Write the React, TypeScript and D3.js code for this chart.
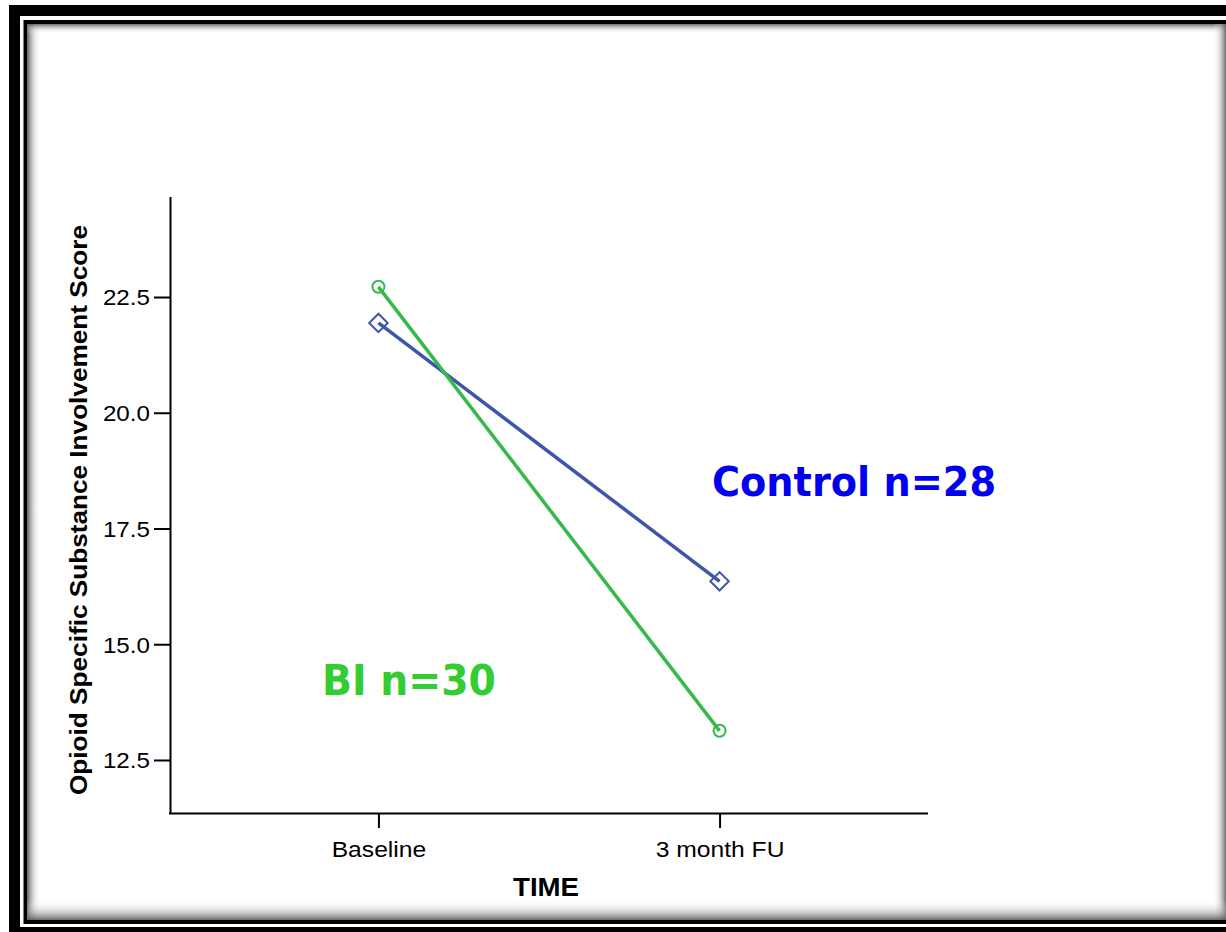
import React, { useRef, useEffect } from 'react';
import * as d3 from 'd3';

const categories = ['Baseline', '3 month FU'];
const controlValues = [21.94, 16.36];
const biValues = [22.72, 13.13];
const yTicks = [12.5, 15.0, 17.5, 20.0, 22.5];
const seriesLabels = ['Control n=28', 'BI n=30'];

const W = 1226;
const H = 932;
const FONT = '"Liberation Sans", Arial, sans-serif';

const App: React.FC = () => {
  const svgRef = useRef<SVGSVGElement>(null);

  useEffect(() => {
    if (!svgRef.current) return;
    const svg = d3.select(svgRef.current);
    svg.selectAll('*').remove();

    // frame: outer black band, white gap, thin black line, inner shadow
    const defs = svg.append('defs');
    const grad = (id: string, x1: number, y1: number, x2: number, y2: number) => {
      const g = defs.append('linearGradient').attr('id', id)
        .attr('x1', x1).attr('y1', y1).attr('x2', x2).attr('y2', y2);
      g.append('stop').attr('offset', 0).attr('stop-color', '#5a5a5a').attr('stop-opacity', 0.9);
      g.append('stop').attr('offset', 0.45).attr('stop-color', '#a8a8a8').attr('stop-opacity', 0.45);
      g.append('stop').attr('offset', 1).attr('stop-color', '#ffffff').attr('stop-opacity', 0);
    };
    grad('shL', 0, 0, 1, 0);
    grad('shR', 1, 0, 0, 0);
    grad('shT', 0, 0, 0, 1);
    grad('shB', 0, 1, 0, 0);

    svg.append('rect').attr('x', 0).attr('y', 0).attr('width', W).attr('height', H).attr('fill', '#fff');
    svg.append('rect').attr('x', 9).attr('y', 5).attr('width', 1240).attr('height', 945).attr('fill', '#000');
    svg.append('rect').attr('x', 20).attr('y', 16).attr('width', 1220).attr('height', 911).attr('fill', '#fff');
    svg.append('rect').attr('x', 23.5).attr('y', 20).attr('width', 1215).attr('height', 904).attr('fill', '#000');
    svg.append('rect').attr('x', 27.5).attr('y', 24).attr('width', 1202).attr('height', 896).attr('fill', '#fff');
    svg.append('rect').attr('x', 27.5).attr('y', 24).attr('width', 13).attr('height', 896).attr('fill', 'url(#shL)');
    svg.append('rect').attr('x', 27.5).attr('y', 24).attr('width', 1202).attr('height', 10).attr('fill', 'url(#shT)');
    svg.append('rect').attr('x', 1213).attr('y', 24).attr('width', 13).attr('height', 896).attr('fill', 'url(#shR)');
    svg.append('rect').attr('x', 27.5).attr('y', 900).attr('width', 1202).attr('height', 20).attr('fill', 'url(#shB)');

    // scales
    const x = d3.scalePoint<string>().domain(categories).range([170, 928]).padding(0.611);
    const y = d3.scaleLinear().domain([11.355, 24.66]).range([813, 197]);

    const stretch = (sel: d3.Selection<SVGTextElement, any, any, any>, k: number) => {
      sel.each(function () {
        const len = (this as SVGTextElement).getComputedTextLength();
        d3.select(this).attr('textLength', len * k).attr('lengthAdjust', 'spacingAndGlyphs');
      });
    };

    // y axis
    const yAxis = svg.append('g').attr('transform', 'translate(170,0)')
      .call(d3.axisLeft(y).tickValues(yTicks).tickSize(16).tickPadding(4).tickFormat(d3.format('.1f')));
    yAxis.attr('font-family', FONT).attr('font-size', 22);
    yAxis.select('.domain').attr('stroke', '#000').attr('stroke-width', 2)
      .attr('d', `M0.5,${y.range()[1]}V${y.range()[0]}`);
    yAxis.selectAll('.tick line').attr('stroke', '#000').attr('stroke-width', 2);
    const yText = yAxis.selectAll<SVGTextElement, number>('.tick text')
      .attr('fill', '#000').style('font-family', FONT).style('font-size', '22px').attr('dy', '0.36em');
    stretch(yText, 1.1);

    // x axis
    const xAxis = svg.append('g').attr('transform', 'translate(0,813)')
      .call(d3.axisBottom(x).tickSize(15).tickPadding(13));
    xAxis.attr('font-family', FONT).attr('font-size', 22);
    xAxis.select('.domain').attr('stroke', '#000').attr('stroke-width', 2)
      .attr('d', 'M169,0.5H928');
    xAxis.selectAll('.tick line').attr('stroke', '#000').attr('stroke-width', 2);
    const xText = xAxis.selectAll<SVGTextElement, string>('.tick text')
      .attr('fill', '#000').style('font-family', FONT).style('font-size', '22px');
    stretch(xText, 1.12);

    // axis titles
    svg.append('text').attr('x', 546).attr('y', 896).attr('text-anchor', 'middle')
      .style('font-family', FONT).attr('font-weight', 'bold')
      .style('font-size', '25px').attr('fill', '#000')
      .attr('textLength', 66).attr('lengthAdjust', 'spacingAndGlyphs')
      .text('TIME');

    svg.append('text').attr('transform', 'translate(87,510) rotate(-90)')
      .attr('text-anchor', 'middle')
      .style('font-family', FONT).attr('font-weight', 'bold')
      .style('font-size', '23px').attr('fill', '#000')
      .attr('textLength', 570).attr('lengthAdjust', 'spacingAndGlyphs')
      .text('Opioid Specific Substance Involvement Score');

    // lines
    const line = d3.line<number>().x((_, i) => x(categories[i])!).y((d) => y(d));

    svg.append('path').datum(controlValues).attr('d', line).attr('fill', 'none')
      .attr('stroke', '#3d56a9').attr('stroke-width', 3.5);
    svg.append('path').datum(biValues).attr('d', line).attr('fill', 'none')
      .attr('stroke', '#36b84a').attr('stroke-width', 3.5);

    // markers
    const diamond = d3.symbol().type(d3.symbolSquare).size(170);
    svg.selectAll('.m-control').data(controlValues).enter().append('path')
      .attr('class', 'm-control')
      .attr('d', diamond)
      .attr('transform', (d, i) => `translate(${x(categories[i])},${y(d)}) rotate(45)`)
      .attr('fill', 'none').attr('stroke', '#3d56a9').attr('stroke-width', 2);

    svg.selectAll('.m-bi').data(biValues).enter().append('circle')
      .attr('class', 'm-bi')
      .attr('cx', (_, i) => x(categories[i])!).attr('cy', (d) => y(d))
      .attr('r', 6)
      .attr('fill', 'none').attr('stroke', '#36b84a').attr('stroke-width', 2);

    // group labels
    svg.append('text').attr('x', 712).attr('y', 496)
      .style('font-family', '"DejaVu Sans", Verdana, sans-serif').attr('font-weight', 'bold')
      .style('font-size', '41px').attr('fill', '#0000ee')
      .attr('textLength', 284).attr('lengthAdjust', 'spacingAndGlyphs')
      .text(seriesLabels[0]);
    svg.append('text').attr('x', 322).attr('y', 695)
      .style('font-family', '"DejaVu Sans", Verdana, sans-serif').attr('font-weight', 'bold')
      .style('font-size', '42px').attr('fill', '#33cc33')
      .attr('textLength', 174).attr('lengthAdjust', 'spacingAndGlyphs')
      .text(seriesLabels[1]);
  }, []);

  return (
    <svg
      ref={svgRef}
      width={W}
      height={H}
      style={{ position: 'absolute', left: 0, top: 0, display: 'block' }}
    />
  );
};

export default App;
